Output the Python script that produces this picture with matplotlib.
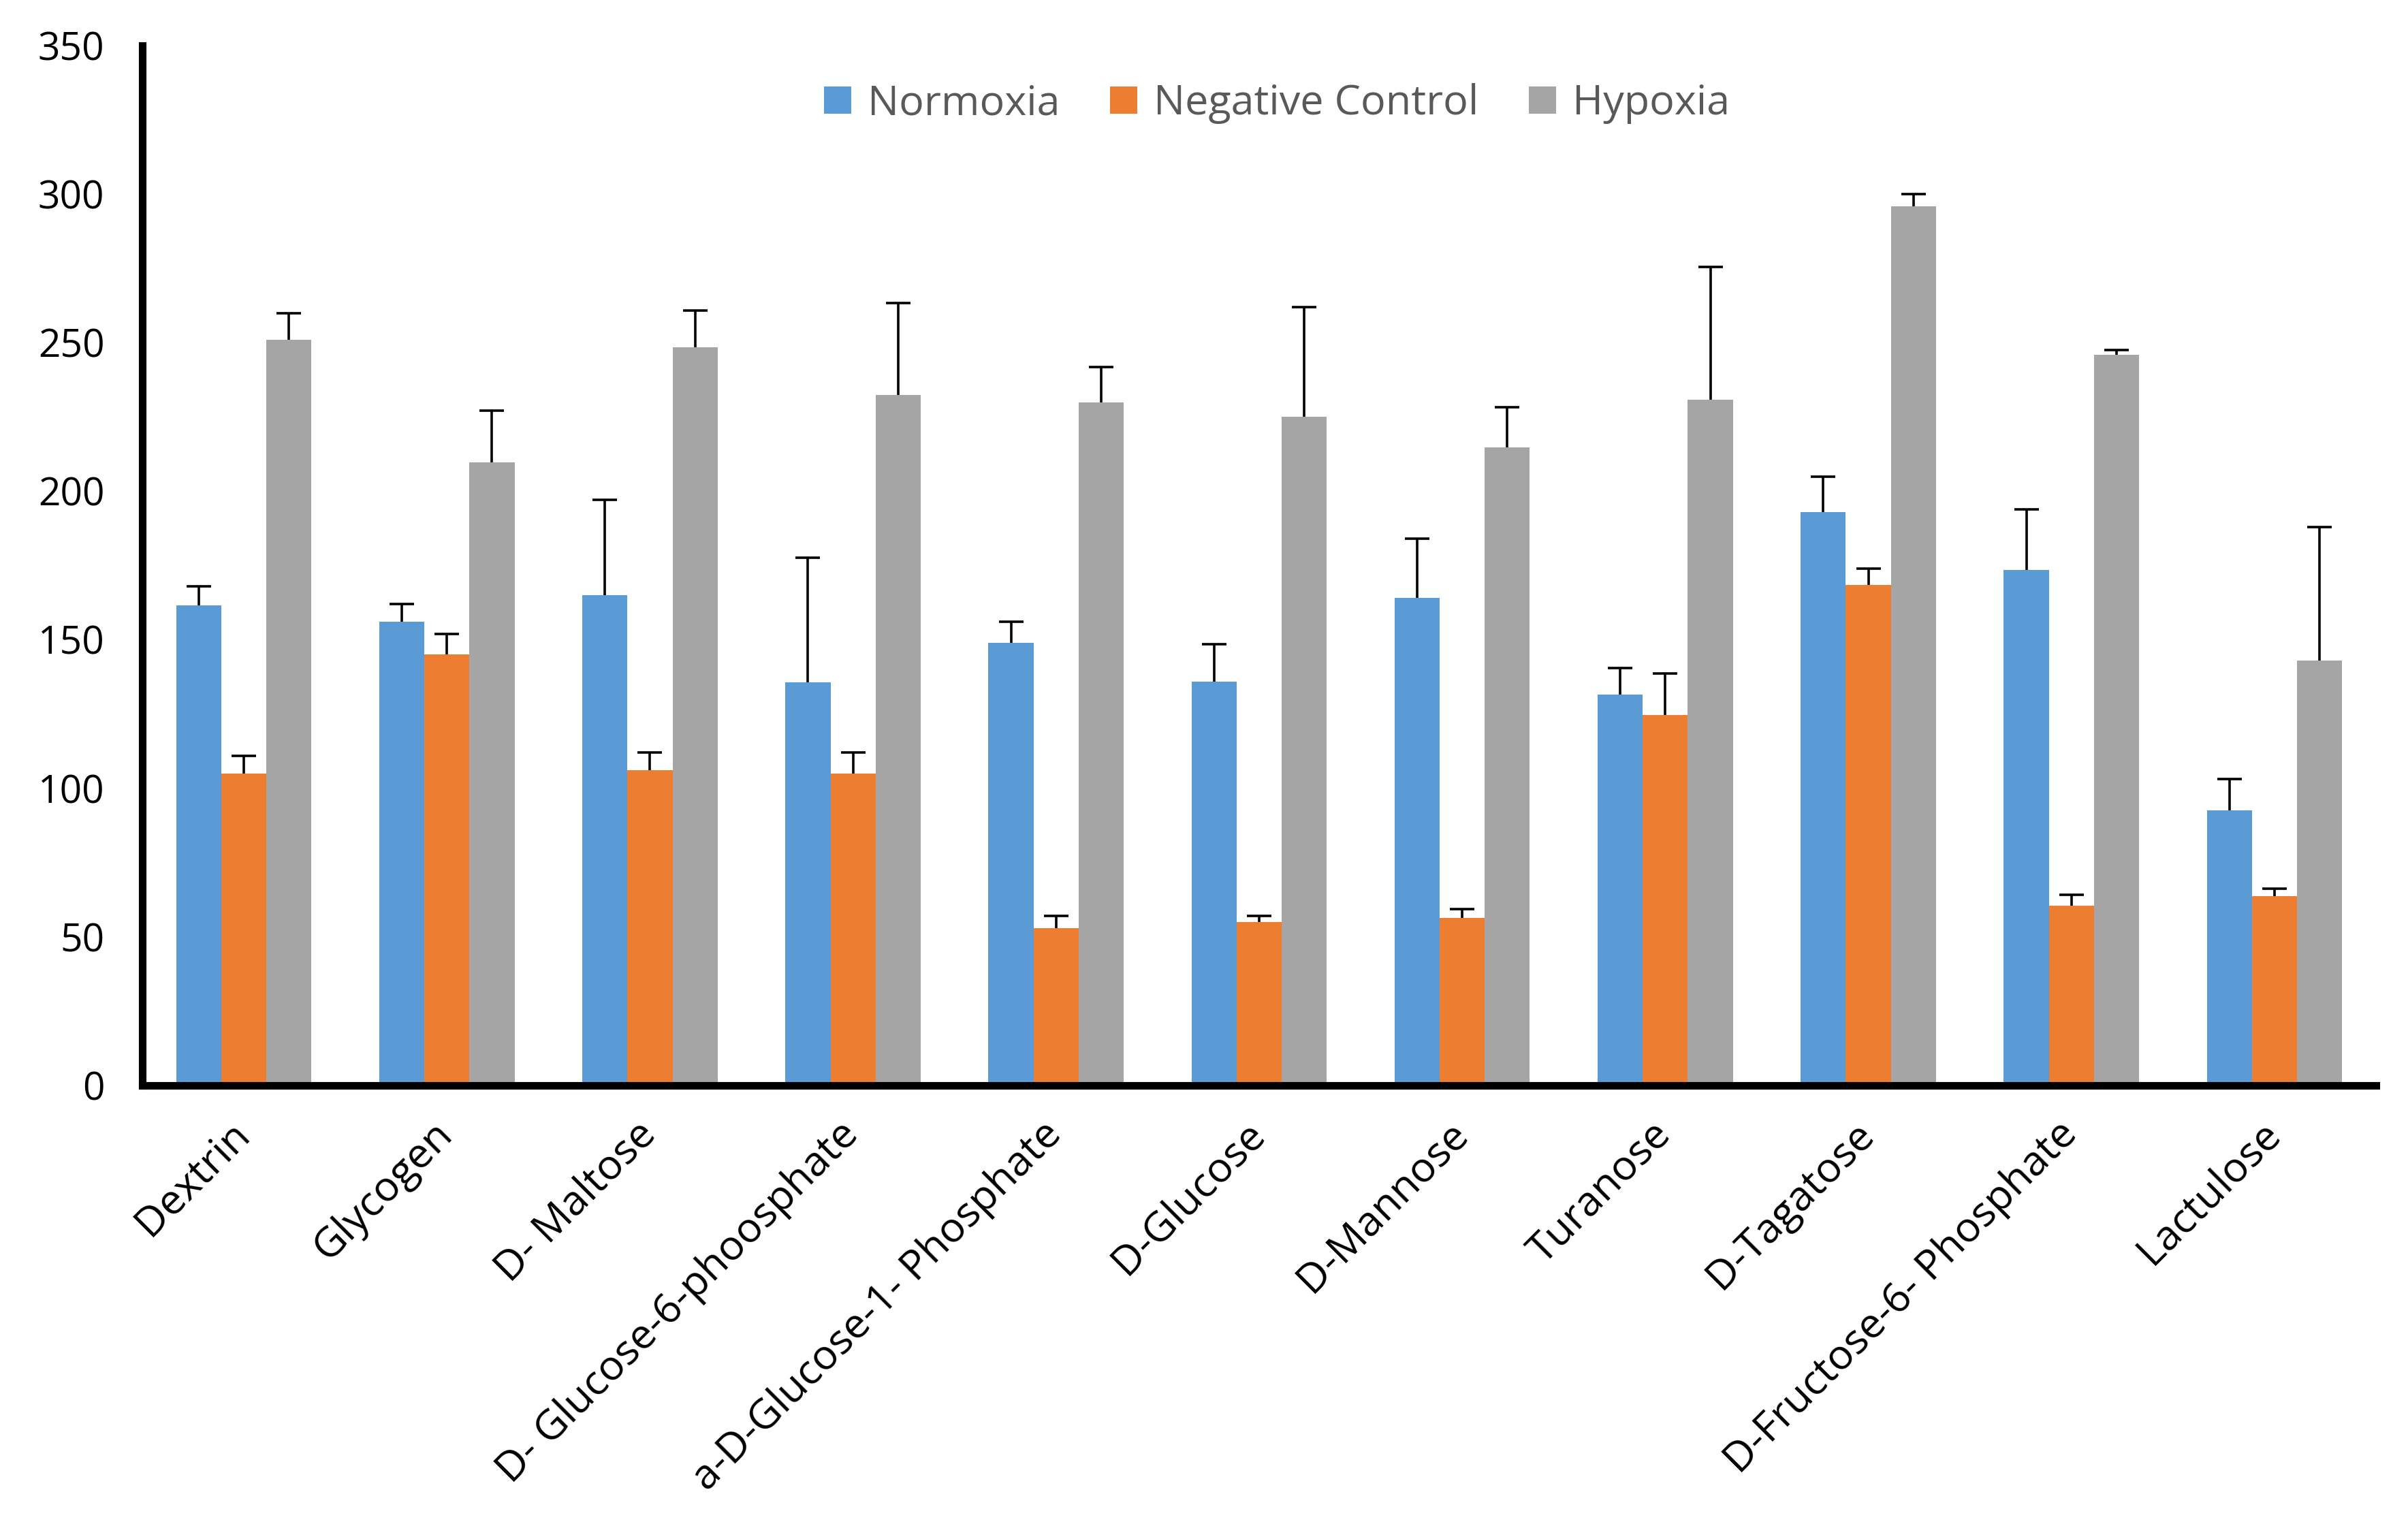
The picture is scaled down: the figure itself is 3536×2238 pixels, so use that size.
import numpy as np
import matplotlib.pyplot as plt
import matplotlib.transforms as mtransforms

# substrates on the plate
substrates = ['Dextrin', 'Glycogen', 'D- Maltose', 'D- Glucose-6-phoosphate',
              'a-D-Glucose-1- Phosphate', 'D-Glucose', 'D-Mannose', 'Turanose',
              'D-Tagatose', 'D-Fructose-6- Phosphate', 'Lactulose']

# mean values
normoxia = [161.5, 156, 165, 135.6, 149, 136, 164, 131.5, 193, 173.5, 92.6]
neg_control = [105, 145, 106, 105, 53, 55, 56.4, 124.7, 168.5, 60.6, 63.7]
hypoxia = [251, 209.6, 248.4, 232.4, 229.8, 225, 214.8, 230.8, 296, 246, 143]

# upper error bars
normoxia_err = [6.5, 6, 32, 42, 7, 12.5, 20, 9, 12, 20.5, 10.5]
neg_control_err = [6, 7, 6, 7, 4, 2, 3, 14, 5.5, 3.5, 2.5]
hypoxia_err = [9, 17.5, 12.5, 31, 12, 37, 13.5, 44.6, 4, 1.5, 45]

series = ['Normoxia', 'Negative Control', 'Hypoxia']
colors = ['#5B9BD5', '#ED7D31', '#A5A5A5']

plt.rcParams['font.family'] = ['Open Sans', 'DejaVu Sans']

fig = plt.figure(figsize=(35.36, 22.38), dpi=100)
ax = fig.add_axes([0.0591, 0.2878, 0.9276, 0.6823])

x = np.arange(len(substrates))
w = 0.222
data = [normoxia, neg_control, hypoxia]
errs = [normoxia_err, neg_control_err, hypoxia_err]

for i, (vals, err, name, c) in enumerate(zip(data, errs, series, colors)):
    pos = x + (i - 1) * w
    ax.bar(pos, vals, width=w, color=c, label=name, zorder=2)
    eb = ax.errorbar(pos, vals, yerr=[np.zeros(len(vals)), err], fmt='none',
                     ecolor='black', elinewidth=2.6, capsize=13, capthick=2.6, zorder=3)
    # only the upper cap is shown
    eb[1][0].set_visible(False)

ax.set_xlim(-0.5, len(substrates) - 0.5)
ax.set_ylim(0, 350)
ax.set_yticks(np.arange(0, 351, 50))

for s in ['top', 'right']:
    ax.spines[s].set_visible(False)
for s in ['left', 'bottom']:
    ax.spines[s].set_linewidth(8)
    ax.spines[s].set_color('black')

ax.tick_params(axis='y', length=0, pad=40, labelsize=41, labelcolor='black')
ax.tick_params(axis='x', length=0, pad=30)
ax.set_xticks(x)
ax.set_xticklabels(substrates, rotation=45, ha='right', rotation_mode='anchor',
                   fontsize=44)
shift = mtransforms.ScaledTranslation(-22 / 100, 0, fig.dpi_scale_trans)
for lab in ax.get_xticklabels():
    lab.set_transform(lab.get_transform() + shift)

ax.legend(loc='center', bbox_to_anchor=(0.508, 0.944), ncol=3, frameon=False,
          fontsize=44, labelcolor='#595959', handlelength=0.65, handleheight=0.65,
          handletextpad=0.4, columnspacing=1.2)

fig.savefig('out.png', dpi=100)
